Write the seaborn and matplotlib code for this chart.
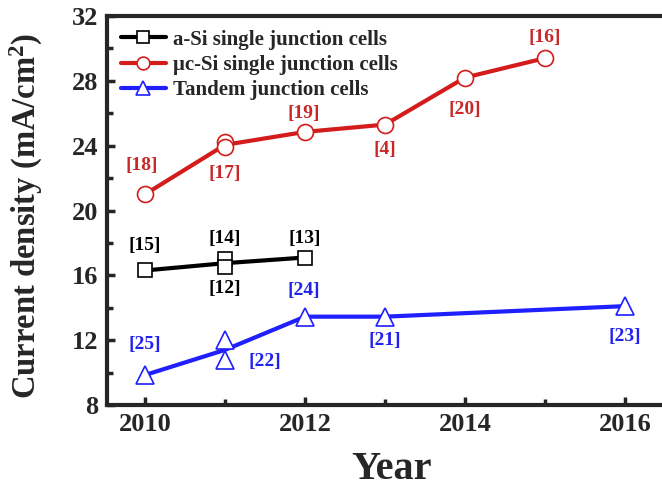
import numpy as np
import pandas as pd
import matplotlib
matplotlib.use("Agg")
import matplotlib.pyplot as plt
from matplotlib.lines import Line2D
from matplotlib.ticker import MultipleLocator
import seaborn as sns

# datos
asi_year = [2010, 2011, 2011, 2012]
asi_jsc = [16.3, 17.0, 16.5, 17.1]
asi_ref = ["[15]", "[14]", "[12]", "[13]"]

uc_year = [2010, 2011, 2011, 2012, 2013, 2014, 2015]
uc_jsc = [21.0, 24.2, 23.9, 24.85, 25.3, 28.2, 29.4]
uc_ref = ["[18]", "", "[17]", "[19]", "[4]", "[20]", "[16]"]

tan_year = [2010, 2011, 2011, 2012, 2013, 2016]
tan_jsc = [9.85, 12.0, 10.8, 13.45, 13.45, 14.1]
tan_ref = ["[25]", "", "[22]", "[24]", "[21]", "[23]"]

# desplazamiento de las etiquetas (puntos)
asi_off = [(0, 18), (0, 15), (0, -15), (0, 14)]
uc_off = [(-2, 21), (0, 0), (0, -19), (-1, 13), (0, -18), (0, -23), (0, 15)]
tan_off = [(0, 22), (0, 0), (29, -1), (-1, 19), (0, -17), (0, -22)]

sns.set_theme(style="ticks")
plt.rcParams["font.family"] = ["Liberation Serif", "DejaVu Serif"]
plt.rcParams["font.weight"] = "bold"
plt.rcParams["mathtext.fontset"] = "custom"
plt.rcParams["mathtext.rm"] = "Liberation Serif:bold"
plt.rcParams["mathtext.bf"] = "Liberation Serif:bold"
plt.rcParams["mathtext.it"] = "Liberation Serif:bold"
plt.rcParams["mathtext.default"] = "bf"

fig = plt.figure(figsize=(6.62, 4.87), dpi=100)
ax = fig.add_axes([107 / 662, 82 / 487, 555 / 662, 389 / 487])

series = [
    (asi_year, asi_jsc, asi_ref, asi_off, "black", "black", "s", 10, "a-Si single junction cells"),
    (uc_year, uc_jsc, uc_ref, uc_off, "#d41c1c", "#c82828", "o", 11.5, "\u03bcc-Si single junction cells"),
    (tan_year, tan_jsc, tan_ref, tan_off, "#1f1fff", "#2222ee", "^", 13, "Tandem junction cells"),
]

handles = []
for years, vals, refs, offs, col, tcol, mk, ms, lab in series:
    df = pd.DataFrame({"Year": years, "Jsc": vals})
    sns.lineplot(data=df, x="Year", y="Jsc", errorbar=None, color=col, lw=3, ax=ax, zorder=2)
    ax.plot(df["Year"], df["Jsc"], ls="none", marker=mk, ms=ms, mfc="white",
            mec=col, mew=1.2, zorder=3)
    for xv, yv, r, o in zip(years, vals, refs, offs):
        if r:
            ax.annotate(r, (xv, yv), xytext=o, textcoords="offset points",
                        ha="center", va="center", fontsize=14, fontweight="bold", color=tcol)
    handles.append(Line2D([], [], color=col, lw=3, marker=mk, ms=ms * 0.8,
                          mfc="white", mec=col, mew=1.2, label=lab))

ax.set_xlim(2009.525, 2016.4625)
ax.set_ylim(8, 32)
ax.xaxis.set_major_locator(MultipleLocator(2))
ax.xaxis.set_minor_locator(MultipleLocator(1))
ax.yaxis.set_major_locator(MultipleLocator(4))
ax.yaxis.set_minor_locator(MultipleLocator(2))
ax.tick_params(which="both", direction="in", width=2.5, labelsize=19, pad=6)
ax.tick_params(which="major", length=6)
ax.tick_params(which="minor", length=4)
for t in ax.get_xticklabels() + ax.get_yticklabels():
    t.set_fontweight("bold")
for s in ["left", "bottom", "top"]:
    ax.spines[s].set_linewidth(3)
ax.spines["right"].set_visible(False)

ax.set_xlabel("Year", fontsize=29, fontweight="bold")
ax.xaxis.set_label_coords(0.512, -0.118)
ax.set_ylabel("Current density (mA/cm$^2$)", fontsize=23.5, fontweight="bold")
ax.yaxis.set_label_coords(-0.112, 0.487)

leg = ax.legend(handles=handles, loc="upper left", frameon=False,
                handlelength=2.2, handletextpad=0.3, labelspacing=0.26,
                borderaxespad=0.2, borderpad=0.45,
                prop={"weight": "bold", "size": 15})

plt.savefig("out.png", dpi=100)
